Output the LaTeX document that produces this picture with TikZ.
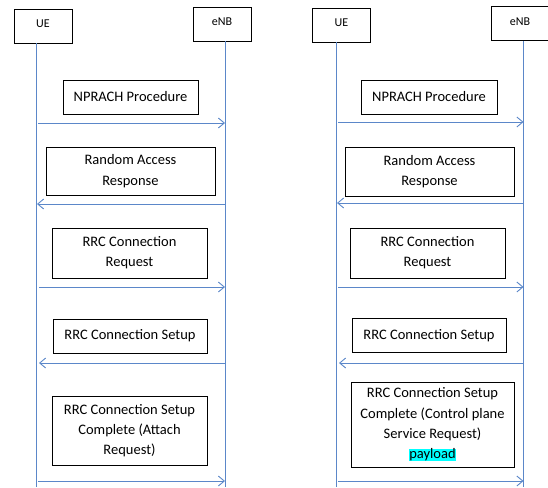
\documentclass[tikz,border=0pt]{standalone}
\usepackage{fontspec}
\setmainfont{Carlito}
\usetikzlibrary{arrows.meta}
\definecolor{lifeblue}{HTML}{5B87C9}
\definecolor{hl}{HTML}{00FFFF}
\begin{document}
\begin{tikzpicture}[x=1pt,y=-1pt,
  hdr/.style={draw=black,line width=0.8pt,minimum width=58pt,minimum height=34pt,inner sep=0pt,font=\fontsize{12}{14}\selectfont},
  msg/.style={draw=black,line width=0.8pt,inner sep=0pt,align=center,font=\fontsize{14.5}{20.3}\selectfont},
  life/.style={draw=lifeblue,line width=0.9pt},
  sig/.style={draw=lifeblue,line width=0.9pt,-{Straight Barb[length=6pt,width=10pt,line width=0.9pt]}}]
\useasboundingbox (0,0) rectangle (548,487);
% ---------- left diagram ----------
\node[hdr] (ueL) at (43,26) {\raisebox{4pt}{UE}};
\node[hdr] (enbL) at (222,24) {\raisebox{4pt}{eNB}};
\coordinate (ueLb) at (36,487);
\coordinate (enbLb) at (225,487);
\draw[life] (ueL.south -| ueLb) -- (ueLb);
\draw[life] (enbL.south -| enbLb) -- (enbLb);

\node[msg,minimum width=135pt,minimum height=34pt] (m1L) at (130.5,97) {NPRACH Procedure};
\node[msg,minimum width=169pt,minimum height=48pt] (m2L) at (130.5,171) {Random Access\\Response};
\node[msg,minimum width=155pt,minimum height=50pt] (m3L) at (129.5,253) {RRC Connection\\Request};
\node[msg,minimum width=154pt,minimum height=34pt] (m4L) at (130,336) {RRC Connection Setup};
\node[msg,minimum width=155pt,minimum height=69pt] (m5L) at (129.5,430.5) {RRC Connection Setup\\Complete (Attach\\Request)};

\coordinate (a1s) at (38,123);  \coordinate (a1e) at (225,123);
\coordinate (a2s) at (225,204); \coordinate (a2e) at (37,204);
\coordinate (a3s) at (39,287);  \coordinate (a3e) at (225,287);
\coordinate (a4s) at (225,363); \coordinate (a4e) at (39,363);
\coordinate (a5s) at (38,481);  \coordinate (a5e) at (225,481);
\draw[sig] (a1s) -- (a1e);
\draw[sig] (a2s) -- (a2e);
\draw[sig] (a3s) -- (a3e);
\draw[sig] (a4s) -- (a4e);
\draw[sig] (a5s) -- (a5e);

% ---------- right diagram ----------
\node[hdr] (ueR) at (341.5,25) {\raisebox{4pt}{UE}};
\node[hdr] (enbR) at (520,23.5) {\raisebox{4pt}{eNB}};
\coordinate (ueRb) at (336,487);
\coordinate (enbRb) at (523.5,487);
\draw[life] (ueR.south -| ueRb) -- (ueRb);
\draw[life] (enbR.south -| enbRb) -- (enbRb);

\node[msg,minimum width=136pt,minimum height=34pt] (m1R) at (429,97) {NPRACH Procedure};
\node[msg,minimum width=169pt,minimum height=49pt] (m2R) at (429.5,171.5) {Random Access\\Response};
\node[msg,minimum width=155pt,minimum height=50pt] (m3R) at (427.5,253) {RRC Connection\\Request};
\node[msg,minimum width=154pt,minimum height=34pt] (m4R) at (429,335.5) {RRC Connection Setup};
\node[msg,minimum width=163pt,minimum height=85pt] (m5R) at (432.5,424.5) {RRC Connection Setup\\Complete (Control plane\\Service Request)\\{\setlength{\fboxsep}{0pt}\colorbox{hl}{payload}}};

\coordinate (b1s) at (338,122);   \coordinate (b1e) at (523.5,122);
\coordinate (b2s) at (523.5,203); \coordinate (b2e) at (337,203);
\coordinate (b3s) at (338,287);   \coordinate (b3e) at (523.5,287);
\coordinate (b4s) at (523.5,363); \coordinate (b4e) at (339,363);
\coordinate (b5s) at (338,481);   \coordinate (b5e) at (523.5,481);
\draw[sig] (b1s) -- (b1e);
\draw[sig] (b2s) -- (b2e);
\draw[sig] (b3s) -- (b3e);
\draw[sig] (b4s) -- (b4e);
\draw[sig] (b5s) -- (b5e);
\end{tikzpicture}
\end{document}
